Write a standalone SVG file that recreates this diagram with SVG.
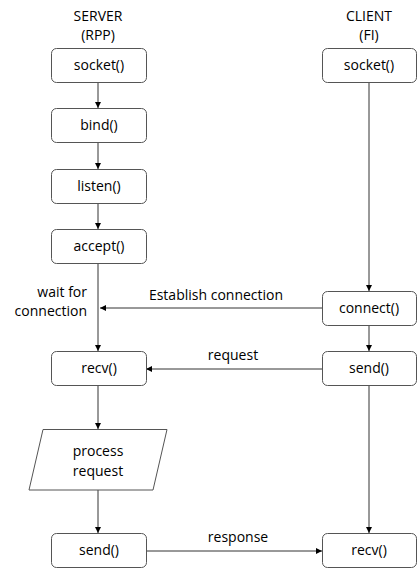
<svg xmlns="http://www.w3.org/2000/svg" width="417" height="570" viewBox="0 0 417 570">
<defs>
<marker id="ah" viewBox="0 0 8 8" refX="8" refY="4" markerWidth="6" markerHeight="6" orient="auto" markerUnits="userSpaceOnUse">
<path d="M0,0 L8,4 L0,8 z" fill="#000"/>
</marker>
<style>
.box{fill:#fff;stroke:#555;stroke-width:1}
.t{font-family:"Open Sans","Liberation Sans",sans-serif;font-size:14px;fill:#000;text-anchor:middle}
.c{stroke:#333;stroke-width:1;fill:none;marker-end:url(#ah)}
</style>
</defs>
<rect width="417" height="570" fill="#fff"/>
<text class="t" x="98" y="21">SERVER</text>
<text class="t" x="98" y="40">(RPP)</text>
<text class="t" x="369" y="21">CLIENT</text>
<text class="t" x="369" y="40">(FI)</text>
<g id="connectors">
<line class="c" x1="98" y1="82" x2="98" y2="108"/>
<line class="c" x1="98" y1="143" x2="98" y2="169"/>
<line class="c" x1="98" y1="204" x2="98" y2="229"/>
<line class="c" x1="98" y1="264" x2="98" y2="351"/>
<line class="c" x1="98" y1="386" x2="98" y2="429"/>
<line class="c" x1="98" y1="490" x2="98" y2="533"/>
<line class="c" x1="369" y1="82" x2="369" y2="291"/>
<line class="c" x1="369" y1="326" x2="369" y2="351"/>
<line class="c" x1="369" y1="386" x2="369" y2="533"/>
<line class="c" x1="322" y1="308" x2="100" y2="308"/>
<line class="c" x1="322" y1="369" x2="146" y2="369"/>
<line class="c" x1="146" y1="551" x2="322" y2="551"/>
<text class="t" x="216" y="300">Establish connection</text>
<text class="t" x="233" y="360">request</text>
<text class="t" x="238" y="542">response</text>
<text class="t" x="87" y="297" style="text-anchor:end">wait for</text>
<text class="t" x="87" y="316" style="text-anchor:end">connection</text>
</g>
<g id="s_socket"><rect class="box" x="51.5" y="48.5" width="95" height="34" rx="5"/><text class="t" x="99" y="70">socket()</text></g>
<g id="s_bind"><rect class="box" x="51.5" y="108.5" width="95" height="34" rx="5"/><text class="t" x="99" y="130">bind()</text></g>
<g id="s_listen"><rect class="box" x="51.5" y="169.5" width="95" height="34" rx="5"/><text class="t" x="99" y="191">listen()</text></g>
<g id="s_accept"><rect class="box" x="51.5" y="229.5" width="95" height="34" rx="5"/><text class="t" x="99" y="251">accept()</text></g>
<g id="s_recv"><rect class="box" x="51.5" y="351.5" width="95" height="34" rx="5"/><text class="t" x="99" y="373">recv()</text></g>
<g id="s_process"><polygon class="box" points="43,429.5 167,429.5 153,490 29,490"/><text class="t" x="98" y="456">process</text><text class="t" x="98" y="476">request</text></g>
<g id="s_send"><rect class="box" x="51.5" y="533.5" width="95" height="34" rx="5"/><text class="t" x="99" y="555">send()</text></g>
<g id="c_socket"><rect class="box" x="322.5" y="48.5" width="94" height="34" rx="5"/><text class="t" x="369" y="70">socket()</text></g>
<g id="c_connect"><rect class="box" x="322.5" y="291.5" width="94" height="34" rx="5"/><text class="t" x="369" y="313">connect()</text></g>
<g id="c_send"><rect class="box" x="322.5" y="351.5" width="94" height="34" rx="5"/><text class="t" x="369" y="373">send()</text></g>
<g id="c_recv"><rect class="box" x="322.5" y="533.5" width="94" height="34" rx="5"/><text class="t" x="369" y="555">recv()</text></g>
</svg>
